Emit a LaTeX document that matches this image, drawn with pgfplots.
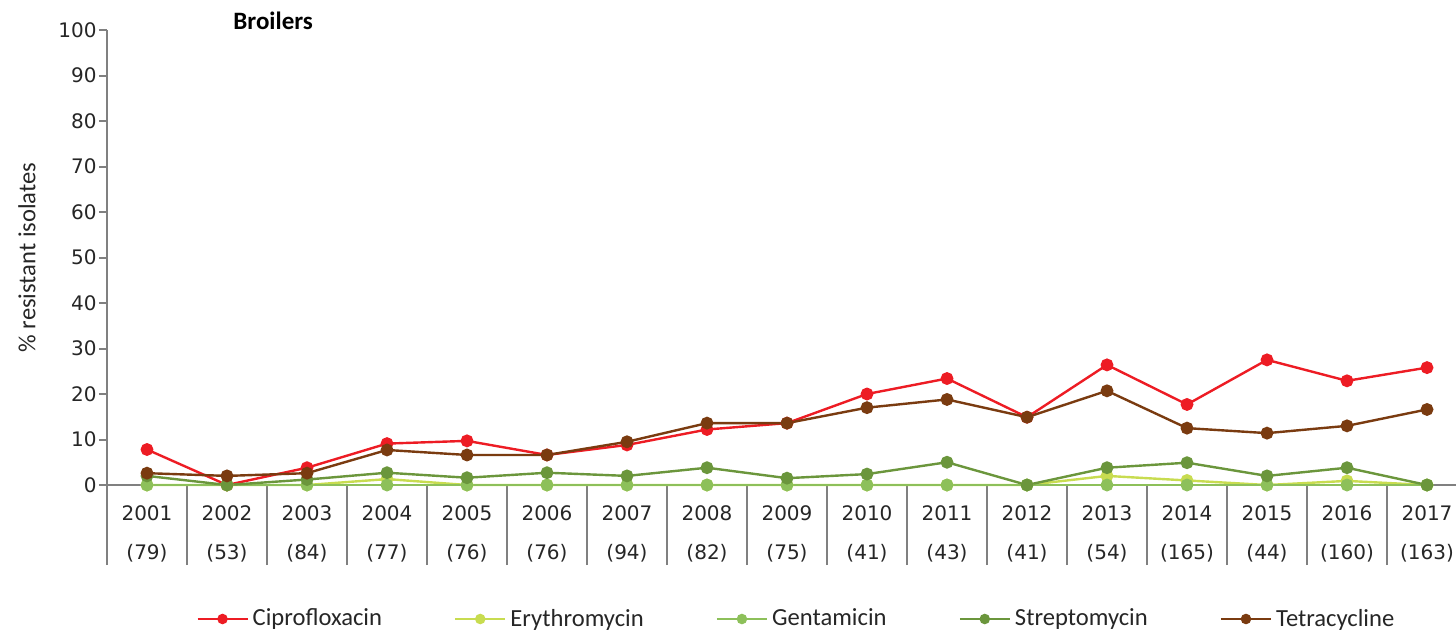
\documentclass[border=0pt]{standalone}
\usepackage{fontspec}
\setmainfont{Carlito}
\newfontfamily\tickfont{DejaVu Sans}
\usepackage{pgfplots}
\pgfplotsset{compat=1.18}
\definecolor{axisgrey}{RGB}{128,128,128}
\definecolor{cipro}{RGB}{237,28,36}
\definecolor{ery}{RGB}{200,220,80}
\definecolor{gent}{RGB}{141,192,90}
\definecolor{strep}{RGB}{107,150,60}
\definecolor{tetra}{RGB}{122,59,16}
\begin{document}
\begin{tikzpicture}
\useasboundingbox (0,0) rectangle (728pt,317pt);
\begin{axis}[
  at={(73.5pt,74.5pt)}, anchor=origin,
  x=40pt, y=2.275pt,
  xmin=-0.5, xmax=16.5, ymin=0, ymax=100,
  axis x line=bottom, axis y line=left,
  axis line style={draw=axisgrey, line width=1pt, -},
  clip=false,
  ytick={0,10,...,100},
  tick align=outside, major tick length=4pt,
  ytick style={draw=axisgrey, line width=1pt},
  xtick={0,...,16},
  xtick style={draw=none},
  xticklabels={2001\\[7.5pt](79),2002\\[7.5pt](53),2003\\[7.5pt](84),2004\\[7.5pt](77),2005\\[7.5pt](76),2006\\[7.5pt](76),2007\\[7.5pt](94),2008\\[7.5pt](82),2009\\[7.5pt](75),2010\\[7.5pt](41),2011\\[7.5pt](43),2012\\[7.5pt](41),2013\\[7.5pt](54),2014\\[7.5pt](165),2015\\[7.5pt](44),2016\\[7.5pt](160),2017\\[7.5pt](163)},
  xticklabel style={align=center, font=\tickfont\fontsize{10}{12}\selectfont, text=black!85, inner sep=0pt, anchor=north, yshift=-6pt},
  yticklabel style={font=\tickfont\fontsize{10}{12}\selectfont, text=black!85, inner sep=1pt},
  /pgf/number format/assume math mode=true,
  extra x ticks={-0.5,0.5,...,16.5},
  extra x tick labels={},
  extra x tick style={major tick length=40pt, tick align=outside, xtick style={draw=axisgrey, line width=1pt}},
  ylabel={\% resistant isolates},
  every axis y label/.style={at={(axis description cs:-0.0588,0.5)}, rotate=90, anchor=center, font=\fontsize{12.3}{14}\selectfont, text=black!85},
  legend columns=5,
  legend style={at={(axis description cs:0.0654,-0.2945)}, anchor=west, draw=none, fill=none, inner sep=0pt,
    font=\fontsize{12.3}{14}\selectfont, column sep=0pt, text=black!85,
    /tikz/every even column/.append style={column sep=34pt}},
  legend image code/.code={\draw[mark repeat=2,mark phase=2,#1,mark size=2pt] plot coordinates {(0pt,0pt) (12.5pt,0pt) (25pt,0pt)};},
  every axis plot/.append style={line width=1.2pt, mark=*, mark size=2.6pt},
]
\addplot[color=cipro, mark options={fill=cipro}] coordinates {(0,7.8)(1,0)(2,3.8)(3,9.1)(4,9.7)(5,6.6)(6,8.8)(7,12.2)(8,13.6)(9,20.0)(10,23.4)(11,14.9)(12,26.4)(13,17.7)(14,27.5)(15,22.9)(16,25.8)};
\addlegendentry{Ciprofloxacin}
\addplot[color=ery, mark options={fill=ery}] coordinates {(0,0)(1,0)(2,0)(3,1.3)(4,0)(5,0)(6,0)(7,0)(8,0)(9,0)(10,0)(11,0)(12,2.0)(13,1.0)(14,0)(15,0.9)(16,0)};
\addlegendentry{Erythromycin}
\addplot[color=gent, mark options={fill=gent}] coordinates {(0,0)(1,0)(2,0)(3,0)(4,0)(5,0)(6,0)(7,0)(8,0)(9,0)(10,0)(11,0)(12,0)(13,0)(14,0)(15,0)(16,0)};
\addlegendentry{Gentamicin}
\addplot[color=strep, mark options={fill=strep}] coordinates {(0,2.0)(1,0)(2,1.2)(3,2.7)(4,1.6)(5,2.7)(6,2.0)(7,3.8)(8,1.5)(9,2.4)(10,5.0)(11,0)(12,3.8)(13,4.9)(14,2.0)(15,3.8)(16,0)};
\addlegendentry{Streptomycin}
\addplot[color=tetra, mark options={fill=tetra}] coordinates {(0,2.6)(1,2.0)(2,2.6)(3,7.7)(4,6.6)(5,6.6)(6,9.5)(7,13.6)(8,13.6)(9,17.0)(10,18.8)(11,14.9)(12,20.7)(13,12.5)(14,11.4)(15,13.0)(16,16.6)};
\addlegendentry{Tetracycline}
\end{axis}
\node[anchor=base west, inner sep=0pt, font=\bfseries\fontsize{12.5}{14}\selectfont] at (116.5pt,302.5pt) {Broilers};
\end{tikzpicture}
\end{document}
